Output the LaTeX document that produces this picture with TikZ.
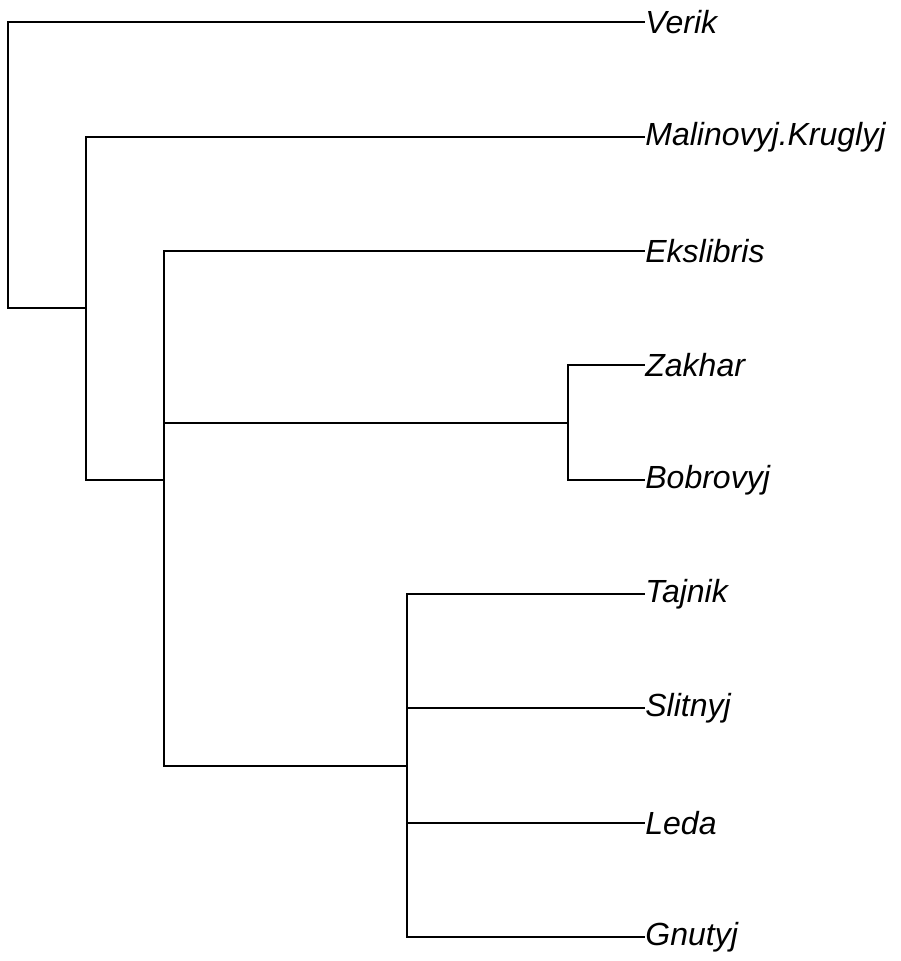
\documentclass[tikz,border=0pt]{standalone}
\usepackage{fontspec}
\setmainfont{Liberation Sans}
\usepackage{tikz}
\usetikzlibrary{positioning}

\begin{document}
\begin{tikzpicture}[
  x=0.5bp, y=-0.5bp,
  edge/.style={line width=1bp, black},
  leaf/.style={anchor=west, inner sep=0pt, font=\itshape\fontsize{16bp}{19bp}\selectfont},
]
  \useasboundingbox (0,0) rectangle (901,961);

  % tips
  \node[leaf] (verik) at (645,22) {Verik};
  \node[leaf] (malinovyj) at (645,137) {Malinovyj.Kruglyj};
  \node[leaf] (ekslibris) at (645,251) {Ekslibris};
  \node[leaf] (zakhar) at (645,365) {Zakhar};
  \node[leaf] (bobrovyj) at (645,480) {Bobrovyj};
  \node[leaf] (tajnik) at (645,594) {Tajnik};
  \node[leaf] (slitnyj) at (645,708) {Slitnyj};
  \node[leaf] (leda) at (645,823) {Leda};
  \node[leaf] (gnutyj) at (645,937) {Gnutyj};

  % inner nodes
  \coordinate (root) at (8,165);
  \coordinate (n1) at (86,308);
  \coordinate (n2) at (164,479.7);
  \coordinate (n3) at (568,422.5);
  \coordinate (n4) at (407,765.5);

  \draw[edge] (root) |- (verik.west);
  \draw[edge] (root) |- (n1);
  \draw[edge] (n1) |- (malinovyj.west);
  \draw[edge] (n1) |- (n2);
  \draw[edge] (n2) |- (ekslibris.west);
  \draw[edge] (n2) |- (n3);
  \draw[edge] (n2) |- (n4);
  \draw[edge] (n3) |- (zakhar.west);
  \draw[edge] (n3) |- (bobrovyj.west);
  \foreach \t in {tajnik, slitnyj, leda, gnutyj}
    \draw[edge] (n4) |- (\t.west);
\end{tikzpicture}
\end{document}
